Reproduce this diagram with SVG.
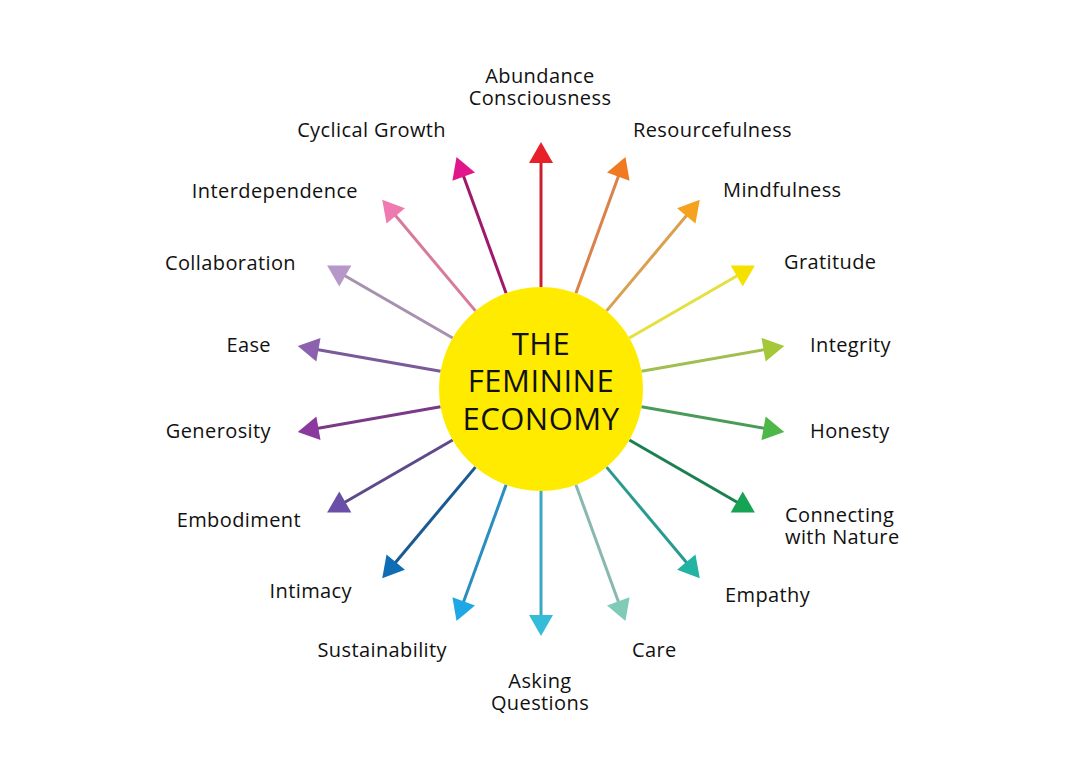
<svg xmlns="http://www.w3.org/2000/svg" width="1080" height="775" viewBox="0 0 1080 775">
<style>
.lbl{font-family:"Open Sans","Liberation Sans",sans-serif;font-size:20px;font-weight:500;letter-spacing:0.4px;fill:#111}
.l{text-anchor:end}
.r{text-anchor:start}
.m{text-anchor:middle}
.ctr{font-family:"Open Sans","Liberation Sans",sans-serif;font-size:31px;font-weight:500;fill:#111;text-anchor:middle;letter-spacing:0.5px}
.ln{stroke-width:3;fill:none}
</style>
<rect width="1080" height="775" fill="#ffffff"/>
<g id="connectors">
<g transform="rotate(-90 541 389)"><line class="ln" x1="643" y1="389" x2="770" y2="389" stroke="#c8202e"/><polygon points="788,389 767,377 767,401" fill="#e8202a"/></g>
<g transform="rotate(-70 541 389)"><line class="ln" x1="643" y1="389" x2="770" y2="389" stroke="#d9824a"/><polygon points="788,389 767,377 767,401" fill="#f07a22"/></g>
<g transform="rotate(-50 541 389)"><line class="ln" x1="643" y1="389" x2="770" y2="389" stroke="#d9a050"/><polygon points="788,389 767,377 767,401" fill="#f5a21e"/></g>
<g transform="rotate(-30 541 389)"><line class="ln" x1="643" y1="389" x2="770" y2="389" stroke="#e3e040"/><polygon points="788,389 767,377 767,401" fill="#f5e100"/></g>
<g transform="rotate(-10 541 389)"><line class="ln" x1="643" y1="389" x2="770" y2="389" stroke="#a0bf50"/><polygon points="788,389 767,377 767,401" fill="#a5c83a"/></g>
<g transform="rotate(10 541 389)"><line class="ln" x1="643" y1="389" x2="770" y2="389" stroke="#4a9a5a"/><polygon points="788,389 767,377 767,401" fill="#4db848"/></g>
<g transform="rotate(30 541 389)"><line class="ln" x1="643" y1="389" x2="770" y2="389" stroke="#1a8050"/><polygon points="788,389 767,377 767,401" fill="#16a354"/></g>
<g transform="rotate(50 541 389)"><line class="ln" x1="643" y1="389" x2="770" y2="389" stroke="#2a9a90"/><polygon points="788,389 767,377 767,401" fill="#22b3a3"/></g>
<g transform="rotate(70 541 389)"><line class="ln" x1="643" y1="389" x2="770" y2="389" stroke="#88b8b0"/><polygon points="788,389 767,377 767,401" fill="#80cbb8"/></g>
<g transform="rotate(90 541 389)"><line class="ln" x1="643" y1="389" x2="770" y2="389" stroke="#3aa8c0"/><polygon points="788,389 767,377 767,401" fill="#35bcd8"/></g>
<g transform="rotate(110 541 389)"><line class="ln" x1="643" y1="389" x2="770" y2="389" stroke="#2a8fc0"/><polygon points="788,389 767,377 767,401" fill="#1ea8e6"/></g>
<g transform="rotate(130 541 389)"><line class="ln" x1="643" y1="389" x2="770" y2="389" stroke="#1a5a90"/><polygon points="788,389 767,377 767,401" fill="#0f6db5"/></g>
<g transform="rotate(150 541 389)"><line class="ln" x1="643" y1="389" x2="770" y2="389" stroke="#5e4a8a"/><polygon points="788,389 767,377 767,401" fill="#6a4fa8"/></g>
<g transform="rotate(170 541 389)"><line class="ln" x1="643" y1="389" x2="770" y2="389" stroke="#7a3a88"/><polygon points="788,389 767,377 767,401" fill="#8a3a9f"/></g>
<g transform="rotate(190 541 389)"><line class="ln" x1="643" y1="389" x2="770" y2="389" stroke="#7a5a98"/><polygon points="788,389 767,377 767,401" fill="#8c62b0"/></g>
<g transform="rotate(210 541 389)"><line class="ln" x1="643" y1="389" x2="770" y2="389" stroke="#a890b0"/><polygon points="788,389 767,377 767,401" fill="#b796c8"/></g>
<g transform="rotate(230 541 389)"><line class="ln" x1="643" y1="389" x2="770" y2="389" stroke="#d87a9c"/><polygon points="788,389 767,377 767,401" fill="#ee7ab0"/></g>
<g transform="rotate(250 541 389)"><line class="ln" x1="643" y1="389" x2="770" y2="389" stroke="#a0186a"/><polygon points="788,389 767,377 767,401" fill="#e0168a"/></g>
</g>
<g id="center">
<circle cx="541" cy="389" r="102" fill="#ffeb00"/>
<text class="ctr" x="541" y="355">THE</text>
<text class="ctr" x="541" y="392">FEMININE</text>
<text class="ctr" x="541" y="430">ECONOMY</text>
</g>
<g id="n-abundance"><text class="lbl m" x="540" y="83">Abundance</text><text class="lbl m" x="540" y="105">Consciousness</text></g>
<g id="n-resourcefulness"><text class="lbl r" x="633" y="137">Resourcefulness</text></g>
<g id="n-mindfulness"><text class="lbl r" x="723" y="197">Mindfulness</text></g>
<g id="n-gratitude"><text class="lbl r" x="784" y="269">Gratitude</text></g>
<g id="n-integrity"><text class="lbl r" x="810" y="352">Integrity</text></g>
<g id="n-honesty"><text class="lbl r" x="810" y="438">Honesty</text></g>
<g id="n-connecting"><text class="lbl r" x="785" y="522">Connecting</text><text class="lbl r" x="785" y="544">with Nature</text></g>
<g id="n-empathy"><text class="lbl r" x="725" y="602">Empathy</text></g>
<g id="n-care"><text class="lbl r" x="632" y="657">Care</text></g>
<g id="n-asking"><text class="lbl m" x="540" y="688">Asking</text><text class="lbl m" x="540" y="710">Questions</text></g>
<g id="n-sustainability"><text class="lbl l" x="447" y="657">Sustainability</text></g>
<g id="n-intimacy"><text class="lbl l" x="352" y="598">Intimacy</text></g>
<g id="n-embodiment"><text class="lbl l" x="301" y="527">Embodiment</text></g>
<g id="n-generosity"><text class="lbl l" x="271" y="438">Generosity</text></g>
<g id="n-ease"><text class="lbl l" x="271" y="352">Ease</text></g>
<g id="n-collaboration"><text class="lbl l" x="296" y="270">Collaboration</text></g>
<g id="n-interdependence"><text class="lbl l" x="358" y="198">Interdependence</text></g>
<g id="n-cyclical"><text class="lbl l" x="446" y="137">Cyclical Growth</text></g>
</svg>
